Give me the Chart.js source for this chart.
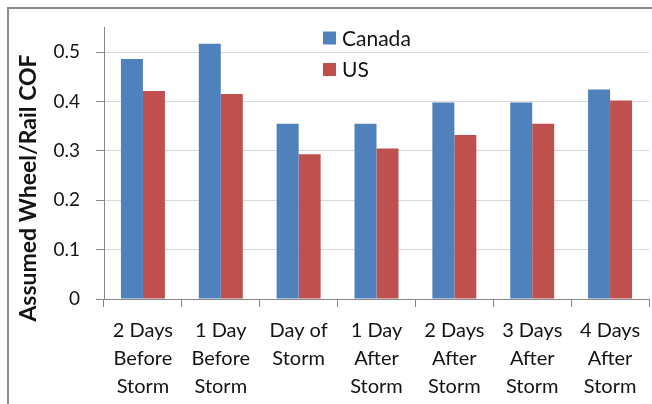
<!DOCTYPE html>
<html>
<head>
<meta charset="utf-8">
<script src="https://cdn.jsdelivr.net/npm/chart.js@4"></script>
<style>
    html, body { margin: 0; padding: 0; background: #fff; }
    .wrap { position: relative; width: 652px; height: 404px; overflow: hidden; }
    .frame { position: absolute; left: 7px; top: 7px; width: 700px; height: 500px; border-left: 2px solid #8a8a8a; border-top: 2px solid #8a8a8a; }
    canvas { position: absolute; left: 0; top: 0; }
</style>
</head>
<body>
<div class="wrap">
    <div class="frame"></div>
    <canvas id="myChart" width="652" height="404"></canvas>
</div>
<script>
// Categories (multi-line labels)
let labels = [
    ['2 Days', 'Before', 'Storm'],
    ['1 Day', 'Before', 'Storm'],
    ['Day of', 'Storm'],
    ['1 Day', 'After', 'Storm'],
    ['2 Days', 'After', 'Storm'],
    ['3 Days', 'After', 'Storm'],
    ['4 Days', 'After', 'Storm']
];

// Series values
let canadaData = [0.486, 0.517, 0.355, 0.355, 0.398, 0.398, 0.424];
let usData = [0.421, 0.415, 0.293, 0.305, 0.332, 0.355, 0.402];

// Y axis ticks
let yTicks = [0, 0.1, 0.2, 0.3, 0.4, 0.5];
let yMax = 0.55;
let yTitle = 'Assumed Wheel/Rail COF';

const fontFamily = 'Lato, "Open Sans", sans-serif';
const textColor = '#141414';
const axisColor = '#868686';

const data = {
    labels: labels,
    datasets: [{
        label: 'Canada',
        data: canadaData,
        backgroundColor: '#4F81BD'
    }, {
        label: 'US',
        data: usData,
        backgroundColor: '#C0504D'
    }]
};

// Legend drawn inside the plot, like the original
const innerLegend = {
    id: 'innerLegend',
    afterDraw(chart) {
        const ctx = chart.ctx;
        ctx.save();
        ctx.font = '21px ' + fontFamily;
        ctx.textBaseline = 'middle';
        chart.data.datasets.forEach((ds, i) => {
            const y = 38 + i * 31.5;
            ctx.fillStyle = ds.backgroundColor;
            ctx.fillRect(323, y - 6.5, 13, 13);
            ctx.fillStyle = textColor;
            ctx.fillText(ds.label, 342, y + 1);
        });
        ctx.restore();
    }
};

// Rotated y axis title
const axisTitle = {
    id: 'axisTitle',
    afterDraw(chart) {
        const ctx = chart.ctx;
        ctx.save();
        ctx.translate(29, 188);
        ctx.rotate(-Math.PI / 2);
        ctx.font = 'bold 23px ' + fontFamily;
        ctx.fillStyle = textColor;
        ctx.textAlign = 'center';
        ctx.textBaseline = 'middle';
        ctx.fillText(yTitle, 0, 0);
        ctx.restore();
    }
};

const config = {
    type: 'bar',
    data: data,
    options: {
        responsive: false,
        animation: false,
        layout: {
            padding: { top: 27, right: 3, left: 0, bottom: 0 }
        },
        datasets: {
            bar: {
                categoryPercentage: 0.565,
                barPercentage: 1
            }
        },
        plugins: {
            legend: { display: false },
            title: { display: false },
            tooltip: { enabled: false }
        },
        scales: {
            x: {
                grid: {
                    offset: true,
                    drawOnChartArea: false,
                    drawTicks: true,
                    tickLength: 8,
                    color: axisColor
                },
                border: { color: axisColor },
                ticks: {
                    color: textColor,
                    padding: 9,
                    maxRotation: 0,
                    autoSkip: false,
                    font: { family: fontFamily, size: 20, lineHeight: 1.42 }
                },
                afterFit(scale) { scale.height = 105; }
            },
            y: {
                min: 0,
                max: yMax,
                grid: {
                    color: '#d9d9d9',
                    tickColor: axisColor,
                    tickLength: 8
                },
                border: { color: axisColor },
                ticks: {
                    stepSize: 0.1,
                    includeBounds: false,
                    padding: 16,
                    color: textColor,
                    font: { family: fontFamily, size: 19 },
                    callback: (v) => yTicks.includes(Math.round(v * 10) / 10) ? String(Math.round(v * 10) / 10) : ''
                },
                afterFit(scale) { scale.width = 104; }
            }
        }
    },
    plugins: [innerLegend, axisTitle]
};

const chart = new Chart(
    document.getElementById('myChart'),
    config
);
</script>
</body>
</html>
